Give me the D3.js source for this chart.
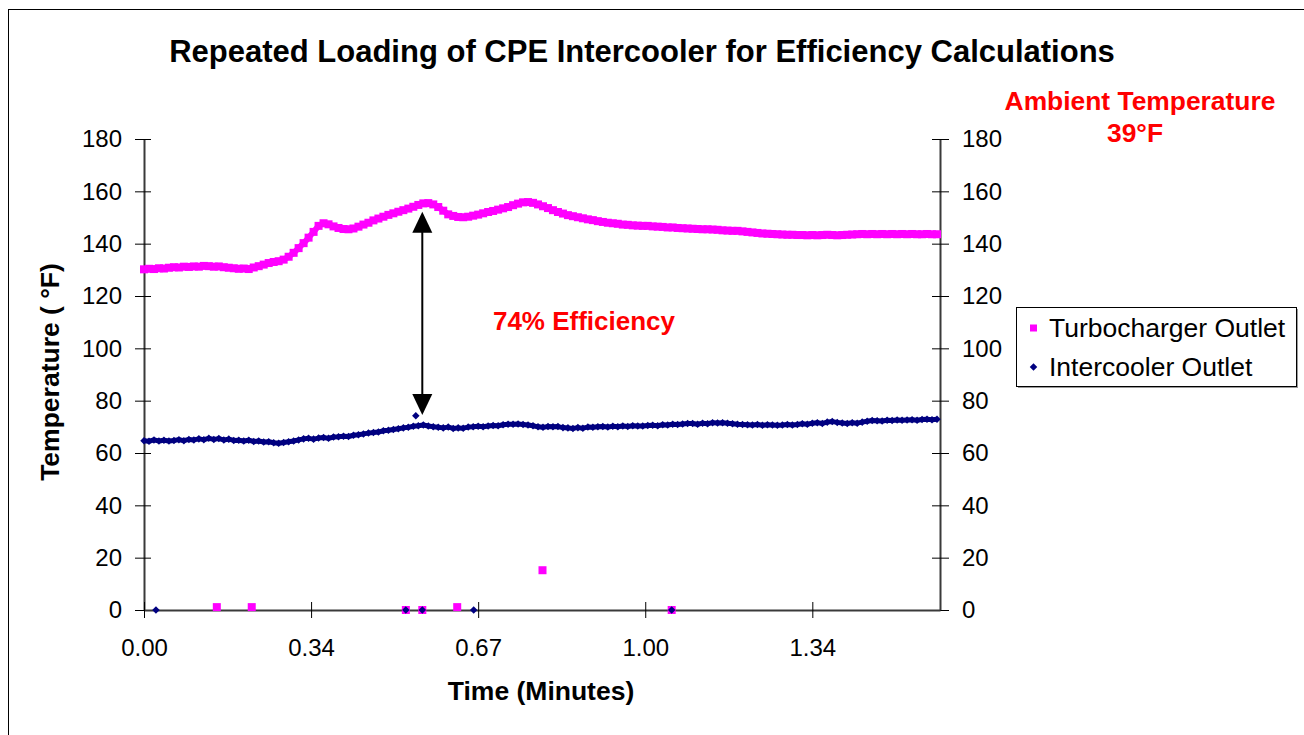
<!DOCTYPE html>
<html lang="en">
<head>
<meta charset="UTF-8">
<title>Repeated Loading of CPE Intercooler</title>
<script src="https://d3js.org/d3.v7.min.js"></script>
<style>
    body { margin: 0; background: #fff; }
    svg { display: block; font-family: 'Liberation Sans', Arial, sans-serif; }
</style>
</head>
<body>
<svg id="chart" width="1304" height="735"></svg>
<script>
// sample spacing of the logged data, minutes
const sampleStep = 0.01;

// Turbocharger outlet temperature (F), one value per sample
const turboOutlet = [
    130.2,130.4,130.3,130.6,130.5,130.8,131.0,130.9,131.2,131.1,
    131.3,131.2,131.5,131.4,131.2,131.3,131.0,130.8,130.6,130.4,
    130.5,130.3,130.9,131.4,132.0,132.6,133.0,133.3,133.9,135.0,
    136.5,138.3,140.2,142.3,144.5,146.8,147.8,147.4,146.6,146.0,
    145.6,145.5,145.8,146.5,147.3,148.0,148.9,149.6,150.3,151.0,
    151.6,152.2,152.8,153.4,154.1,154.8,155.4,155.5,155.0,154.0,
    152.6,151.2,150.6,150.2,150.1,150.3,150.7,151.1,151.6,152.1,
    152.5,153.0,153.5,154.0,154.7,155.3,155.8,155.9,155.6,155.0,
    154.3,153.6,152.8,152.1,151.5,150.9,150.5,150.1,149.7,149.3,
    149.0,148.6,148.3,148.0,147.8,147.6,147.3,147.2,147.0,146.9,
    146.8,146.8,146.6,146.5,146.4,146.2,146.2,146.0,145.9,145.8,
    145.7,145.6,145.5,145.5,145.4,145.3,145.1,145.0,144.9,144.9,
    144.7,144.5,144.3,144.1,143.9,143.8,143.7,143.6,143.5,143.4,
    143.4,143.3,143.3,143.2,143.3,143.2,143.3,143.4,143.3,143.2,
    143.3,143.4,143.5,143.6,143.7,143.6,143.7,143.6,143.7,143.6,
    143.7,143.6,143.7,143.6,143.7,143.6,143.6,143.7,143.6,143.6
];

// Intercooler outlet temperature (F)
const interOutlet = [
    64.7,64.5,65.0,64.6,64.9,64.6,64.8,65.1,64.7,65.2,
    65.0,65.4,65.1,65.6,65.2,65.5,65.0,65.3,64.8,64.9,
    64.6,64.9,64.4,64.6,64.2,64.3,63.9,63.7,64.0,64.3,
    64.6,65.0,65.4,65.6,65.3,65.7,65.9,65.6,66.1,66.2,
    66.4,66.3,66.8,67.0,67.3,67.6,67.8,68.0,68.5,68.7,
    69.0,69.3,69.6,69.8,70.2,70.4,70.7,70.3,70.0,69.8,
    69.6,69.9,69.4,69.6,69.5,69.9,70.0,70.2,70.0,70.3,
    70.5,70.4,70.8,71.0,71.0,71.1,70.9,70.7,70.4,70.0,
    69.8,70.1,70.0,70.1,69.7,69.6,69.4,69.7,69.5,69.9,
    69.8,70.0,70.1,69.9,70.2,70.0,70.3,70.1,70.4,70.3,
    70.3,70.5,70.6,70.4,70.8,70.7,71.0,70.9,71.1,71.3,
    71.3,71.0,71.4,71.2,71.6,71.5,71.6,71.4,71.2,71.0,
    70.9,70.8,70.7,70.9,70.6,70.8,70.7,70.6,70.7,70.9,
    70.7,70.9,71.2,71.0,71.4,71.6,71.3,71.8,72.0,71.7,
    71.5,71.3,71.6,71.4,71.8,72.1,72.4,72.3,72.2,72.5,
    72.4,72.6,72.5,72.6,72.7,72.5,72.8,72.9,72.7,72.9
];

// dropped readings (sensor glitches)
const turboStrayTime = [0.146, 0.216, 0.525, 0.558, 0.628, 0.799, 1.058];
const turboStrayTemp = [1.1, 1.1, 0, 0, 1.1, 15.2, 0];
const interStrayTime = [0.024, 0.525, 0.545, 0.558, 0.661, 1.058];
const interStrayTemp = [0, 0, 74.2, 0, 0, 0];

const xTickValues = [0, 0.335, 0.67, 1.005, 1.34];
const xTickLabels = ["0.00", "0.34", "0.67", "1.00", "1.34"];
const yTicks = [0, 20, 40, 60, 80, 100, 120, 140, 160, 180];
const xMax = 1.596;

// efficiency arrow (time, from, to)
const arrowTime = 0.558;
const arrowTop = 152.2;
const arrowBottom = 74.5;

const PINK = "#ff00ff", NAVY = "#000080";

const svg = d3.select("#chart");

// outer chart frame
svg.append("rect")
    .attr("x", 8.5).attr("y", 9.5)
    .attr("width", 1310).attr("height", 740)
    .attr("fill", "#fff").attr("stroke", "#000").attr("stroke-width", 1);

const x = d3.scaleLinear().domain([0, xMax]).range([144, 940]);
const y = d3.scaleLinear().domain([0, 180]).range([610, 139]);

// axes
const gLeft = svg.append("g").attr("transform", "translate(144,0)")
    .call(d3.axisLeft(y).tickValues(yTicks).tickSizeOuter(0));
const gRight = svg.append("g").attr("transform", "translate(940,0)")
    .call(d3.axisRight(y).tickValues(yTicks).tickSizeOuter(0));
const gBottom = svg.append("g").attr("transform", "translate(0,610)")
    .call(d3.axisBottom(x).tickValues(xTickValues)
        .tickFormat((d, i) => xTickLabels[i]).tickSizeOuter(0));

[gLeft, gRight, gBottom].forEach(g => {
    g.select(".domain").attr("stroke", "#3a3a3a").attr("stroke-width", 2);
    g.selectAll(".tick line").attr("stroke", "#000").attr("stroke-width", 1);
    g.selectAll(".tick text").attr("font-size", 24).attr("fill", "#000")
        .attr("font-family", "'Liberation Sans', Arial, sans-serif");
});
gLeft.selectAll(".tick line").attr("x1", 7).attr("x2", -9);
gLeft.selectAll(".tick text").attr("x", -22);
gRight.selectAll(".tick line").attr("x1", -8).attr("x2", 9);
gRight.selectAll(".tick text").attr("x", 22);
gBottom.selectAll(".tick line").attr("y1", -8).attr("y2", 8);
gBottom.selectAll(".tick text").attr("y", 29);

// series
function series(vals) {
    return vals.map((v, i) => ({t: i * sampleStep, v: v}));
}
const turbo = series(turboOutlet);
const inter = series(interOutlet);

const line = d3.line().x(d => x(d.t)).y(d => y(d.v));

svg.append("path").datum(turbo)
    .attr("d", line).attr("fill", "none")
    .attr("stroke", PINK).attr("stroke-width", 6).attr("stroke-linejoin", "round");
svg.append("path").datum(inter)
    .attr("d", line).attr("fill", "none")
    .attr("stroke", NAVY).attr("stroke-width", 5).attr("stroke-linejoin", "round");

const turboPts = turbo.concat(turboStrayTime.map((t, i) => ({t: t, v: turboStrayTemp[i]})));
const interPts = inter.concat(interStrayTime.map((t, i) => ({t: t, v: interStrayTemp[i]})));

svg.append("g").selectAll("rect")
    .data(turboPts).join("rect")
    .attr("x", d => x(d.t) - 4).attr("y", d => y(d.v) - 4)
    .attr("width", 8).attr("height", 8)
    .attr("fill", PINK);

const diamond = d3.symbol().type(d3.symbolDiamond2).size(36);
svg.append("g").selectAll("path")
    .data(interPts).join("path")
    .attr("transform", d => `translate(${x(d.t)},${y(d.v)})`)
    .attr("d", diamond)
    .attr("fill", NAVY);

// double arrow
const ax = x(arrowTime), ay1 = y(arrowTop), ay2 = y(arrowBottom);
svg.append("line")
    .attr("x1", ax).attr("x2", ax)
    .attr("y1", ay1 + 18).attr("y2", ay2 - 18)
    .attr("stroke", "#000").attr("stroke-width", 2);
svg.append("path")
    .attr("d", `M${ax},${ay1} L${ax - 10},${ay1 + 21} L${ax + 10},${ay1 + 21} Z`)
    .attr("fill", "#000");
svg.append("path")
    .attr("d", `M${ax},${ay2} L${ax - 10},${ay2 - 21} L${ax + 10},${ay2 - 21} Z`)
    .attr("fill", "#000");

// texts
svg.append("text")
    .attr("x", 642).attr("y", 62)
    .attr("text-anchor", "middle")
    .attr("font-size", 31).attr("font-weight", "bold")
    .text("Repeated Loading of CPE Intercooler for Efficiency Calculations");

svg.append("text")
    .attr("x", 584).attr("y", 330)
    .attr("text-anchor", "middle").attr("fill", "#ff0000")
    .attr("font-size", 26).attr("font-weight", "bold")
    .text("74% Efficiency");

svg.append("text")
    .attr("x", 1140).attr("y", 110)
    .attr("text-anchor", "middle").attr("fill", "#ff0000")
    .attr("font-size", 26.4).attr("font-weight", "bold")
    .text("Ambient Temperature");
svg.append("text")
    .attr("x", 1135).attr("y", 142)
    .attr("text-anchor", "middle").attr("fill", "#ff0000")
    .attr("font-size", 26.4).attr("font-weight", "bold")
    .text("39°F");

svg.append("text")
    .attr("x", 541).attr("y", 700)
    .attr("text-anchor", "middle")
    .attr("font-size", 26.5).attr("font-weight", "bold")
    .text("Time (Minutes)");

svg.append("text")
    .attr("transform", "translate(59,372) rotate(-90)")
    .attr("text-anchor", "middle")
    .attr("font-size", 26.5).attr("font-weight", "bold")
    .text("Temperature ( °F)");

// legend
const legend = svg.append("g").attr("transform", "translate(1016,307)");
legend.append("rect").attr("x", 2).attr("y", 2)
    .attr("width", 280).attr("height", 79).attr("fill", "#9a9a9a");
legend.append("rect").attr("x", 0.5).attr("y", 0.5)
    .attr("width", 280).attr("height", 79)
    .attr("fill", "#fff").attr("stroke", "#000").attr("stroke-width", 1);
const legendItems = [
    {name: "Turbocharger Outlet", color: PINK, shape: "square"},
    {name: "Intercooler Outlet", color: NAVY, shape: "diamond"}
];
legendItems.forEach((it, i) => {
    const cy = 21 + i * 39;
    if (it.shape === "square") {
        legend.append("rect").attr("x", 14).attr("y", cy - 3.5)
            .attr("width", 7).attr("height", 7).attr("fill", it.color);
    } else {
        legend.append("path").attr("transform", `translate(17.5,${cy})`)
            .attr("d", diamond).attr("fill", it.color);
    }
    legend.append("text")
        .attr("x", 33).attr("y", cy + 9)
        .attr("font-size", 26.5)
        .text(it.name);
});
</script>
</body>
</html>
